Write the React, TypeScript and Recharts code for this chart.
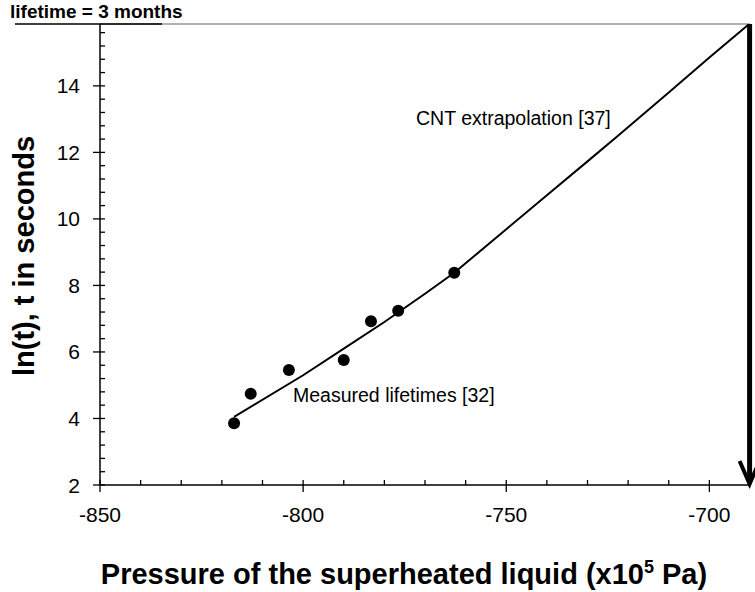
import React from 'react';
import { ComposedChart, Line, Scatter, XAxis, YAxis, ReferenceLine } from 'recharts';

// CNT extrapolation curve [37]
const curvePressure = [-817, -800, -790, -780, -770, -762.8, -750, -740, -730, -723, -710, -700, -690.2];
const curveLnT = [4.05, 5.3, 6.1, 6.9, 7.75, 8.38, 9.69, 10.71, 11.73, 12.45, 13.8, 14.85, 15.86];

// Measured lifetimes [32]
const measuredPressure = [-817.0, -812.9, -803.5, -790.0, -783.3, -776.6, -762.8];
const measuredLnT = [3.86, 4.74, 5.46, 5.76, 6.92, 7.24, 8.38];

// Axes
const xDomain = [-850, -690];
const yDomain = [2, 15.86];
const xMajorTicks = [-850, -800, -750, -700];
const xAllTicks = [-850, -840, -830, -820, -810, -800, -790, -780, -770, -760, -750, -740, -730, -720, -710, -700];
const yMajorTicks = [2, 4, 6, 8, 10, 12, 14];
const yAllTicks = [2, 2.4, 2.8, 3.2, 3.6, 4, 4.4, 4.8, 5.2, 5.6, 6, 6.4, 6.8, 7.2, 7.6, 8, 8.4, 8.8, 9.2, 9.6, 10, 10.4, 10.8, 11.2, 11.6, 12, 12.4, 12.8, 13.2, 13.6, 14, 14.4, 14.8, 15.2, 15.6];

// "lifetime = 3 months" arrow position
const arrowPressure = -690.1;

const curveData = curvePressure.map((p, i) => ({ p, v: curveLnT[i] }));
const measuredData = measuredPressure.map((p, i) => ({ p, v: measuredLnT[i] }));

const FONT = '"Liberation Sans", Arial, Helvetica, sans-serif';

const XTick = (props: any) => {
  const { x, y, payload } = props;
  const major = xMajorTicks.includes(payload.value);
  return (
    <g>
      <line x1={x} x2={x} y1={y - 5} y2={major ? y + 7 : y} stroke="#000" strokeWidth={1.3} />
      {major && (
        <text x={x} y={y + 37} textAnchor="middle" fontSize={21} fontFamily={FONT} fill="#000">
          {payload.value}
        </text>
      )}
    </g>
  );
};

const YTick = (props: any) => {
  const { x, y, payload } = props;
  const major = yMajorTicks.some((t) => Math.abs(t - payload.value) < 1e-6);
  return (
    <g>
      <line x1={major ? x - 7 : x} x2={x + 5} y1={y} y2={y} stroke="#000" strokeWidth={1.3} />
      {major && (
        <text x={x - 20} y={y + 7.5} textAnchor="end" fontSize={21} fontFamily={FONT} fill="#000">
          {payload.value}
        </text>
      )}
    </g>
  );
};

const ArrowShape = (props: any) => {
  const { x1, y1, x2, y2 } = props;
  return (
    <g>
      <line x1={x1} y1={y1} x2={x2} y2={y2 - 3} stroke="#000" strokeWidth={5} />
      <polyline
        points={`${x2 - 10},${y2 - 24} ${x2},${y2 - 1} ${x2 + 10},${y2 - 24}`}
        fill="none"
        stroke="#000"
        strokeWidth={4}
      />
    </g>
  );
};

export default function App() {
  return (
    <div style={{ position: 'absolute', left: 0, top: 0, width: 755, height: 592, background: '#fff' }}>
      <ComposedChart width={755} height={592} margin={{ top: 24, right: 5, left: 0, bottom: 47 }}>
        <XAxis
          type="number"
          dataKey="p"
          domain={xDomain}
          ticks={xAllTicks}
          allowDataOverflow
          height={60}
          tickSize={0}
          tickMargin={0}
          tickLine={false}
          interval={0}
          axisLine={{ stroke: '#000', strokeWidth: 1.5 }}
          tick={<XTick />}
        />
        <YAxis
          type="number"
          dataKey="v"
          domain={yDomain}
          ticks={yAllTicks}
          allowDataOverflow
          width={100}
          tickSize={0}
          tickMargin={0}
          tickLine={false}
          interval={0}
          axisLine={{ stroke: '#000', strokeWidth: 1.5 }}
          tick={<YTick />}
        />
        <ReferenceLine y={yDomain[1]} stroke="#999" strokeWidth={1.5} />
        <Line
          data={curveData}
          dataKey="v"
          type="linear"
          stroke="#000"
          strokeWidth={2}
          dot={false}
          activeDot={false}
          isAnimationActive={false}
        />
        <Scatter data={measuredData} dataKey="v" fill="#000" isAnimationActive={false} shape={(p: any) => <circle cx={p.cx} cy={p.cy} r={6} fill="#000" />} />
        <ReferenceLine
          segment={[
            { x: arrowPressure, y: yDomain[1] },
            { x: arrowPressure, y: yDomain[0] },
          ]}
          ifOverflow="visible"
          shape={<ArrowShape />}
        />
      </ComposedChart>
      <svg
        width={755}
        height={592}
        style={{ position: 'absolute', left: 0, top: 0, pointerEvents: 'none' }}
      >
        <text x={10} y={18} fontSize={19} fontWeight="bold" fontFamily={FONT} fill="#000">
          lifetime = 3 months
        </text>
        <line x1={15} x2={162} y1={24} y2={24} stroke="#000" strokeWidth={1.5} />
        <text x={416} y={125} fontSize={19.5} fontFamily={FONT} fill="#000">
          CNT extrapolation [37]
        </text>
        <text x={293} y={402} fontSize={19.5} fontFamily={FONT} fill="#000">
          Measured lifetimes [32]
        </text>
        <text
          transform="translate(34, 256) rotate(-90)"
          textAnchor="middle"
          fontSize={29}
          fontWeight="bold"
          fontFamily={FONT}
          fill="#000"
        >
          ln(t), t in seconds
        </text>
        <text x={404} y={584} textAnchor="middle" fontSize={29} fontWeight="bold" fontFamily={FONT} fill="#000">
          Pressure of the superheated liquid (x10
          <tspan fontSize={18} dy={-11}>5</tspan>
          <tspan dy={11}> Pa)</tspan>
        </text>
      </svg>
    </div>
  );
}
